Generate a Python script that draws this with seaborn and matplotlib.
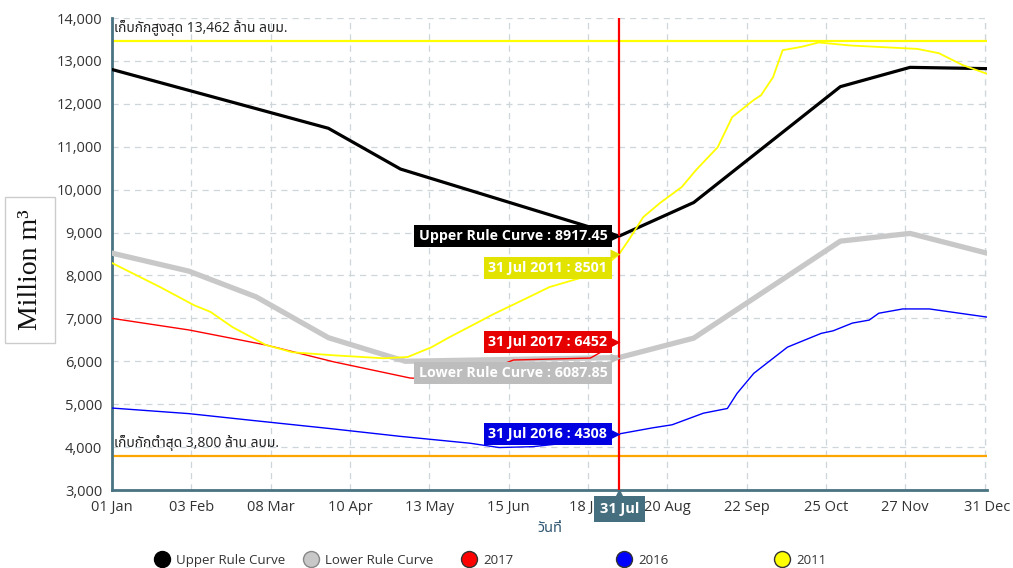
import matplotlib
matplotlib.use("Agg")
import matplotlib.pyplot as plt
from matplotlib.lines import Line2D
from matplotlib.ticker import FuncFormatter
import seaborn as sns

# day of year (0 = 01 Jan) and storage in million m3
upper_days = [0, 90, 120, 211, 242, 303, 332, 364]
upper_vals = [12800, 11430, 10480, 8917.45, 9700, 12400, 12850, 12820]

lower_days = [0, 32, 60, 90, 122, 211, 242, 303, 332, 364]
lower_vals = [8520, 8100, 7500, 6550, 6000, 6087.85, 6540, 8800, 8980, 8520]

y2017_days = [0, 32, 64, 92, 124, 145, 167, 199, 211]
y2017_vals = [7000, 6730, 6380, 5990, 5610, 5550, 6030, 6075, 6452]

y2016_days = [0, 32, 57, 91, 120, 149, 161, 175, 190, 203, 211, 225, 233, 246,
              256, 260, 267, 281, 295, 300, 308, 315, 319, 329, 340, 364]
y2016_vals = [4910, 4780, 4630, 4430, 4250, 4090, 3990, 4010, 4100, 4220, 4308,
              4450, 4520, 4790, 4900, 5250, 5720, 6330, 6650, 6710, 6890, 6960,
              7120, 7220, 7220, 7030]

y2011_days = [0, 20, 34, 41, 50, 64, 75, 92, 113, 123, 133, 140, 154, 158, 171,
              182, 196, 208, 211, 215, 221, 228, 237, 243, 252, 258, 267, 270,
              275, 279, 287, 294, 307, 335, 344, 354, 364]
y2011_vals = [8290, 7730, 7310, 7150, 6800, 6380, 6210, 6140, 6070, 6100, 6330,
              6550, 6960, 7080, 7430, 7730, 7960, 8360, 8501, 8830, 9360, 9690,
              10060, 10460, 10990, 11690, 12090, 12200, 12620, 13250, 13330,
              13430, 13360, 13280, 13180, 12900, 12700]

max_storage = 13462
min_storage = 3800
today = 211  # 31 Jul

tick_days = [0, 33, 66, 99, 132, 165, 198, 231, 264, 297, 330, 363, 364]
tick_labels = ["01 Jan", "03 Feb", "08 Mar", "10 Apr", "13 May", "15 Jun",
               "18 Jul", "20 Aug", "22 Sep", "25 Oct", "27 Nov", "", "31 Dec"]

series_names = ["Upper Rule Curve", "Lower Rule Curve", "2017", "2016", "2011"]
series_colors = ["#000000", "#c8c8c8", "#ff0000", "#0000ff", "#ffff00"]

# tooltip labels at 31 Jul
tip_texts = ["Upper Rule Curve : 8917.45", "31 Jul 2011 : 8501", "31 Jul 2017 : 6452",
             "Lower Rule Curve : 6087.85", "31 Jul 2016 : 4308"]
tip_values = [8917.45, 8501, 6452, 6087.85, 4308]
tip_colors = ["#000000", "#e3e300", "#e60000", "#bdbdbd", "#0000e0"]


def main():
    sns.set_style("white")
    plt.rcParams["font.family"] = ["Open Sans", "Noto Sans Thai", "DejaVu Sans"]
    teal = "#4a7382"

    fig = plt.figure(figsize=(10.13, 5.68), dpi=100)
    ax = fig.add_axes([0.1106, 0.1373, 0.8637, 0.831])

    ax.axhline(max_storage, color="#ffff00", lw=1.6, zorder=2)
    ax.axhline(min_storage, color="#ffa500", lw=1.6, zorder=2)

    sns.lineplot(x=lower_days, y=lower_vals, ax=ax, color="#c8c8c8", lw=3.8, zorder=3)
    sns.lineplot(x=upper_days, y=upper_vals, ax=ax, color="#000000", lw=2.3, zorder=4)
    sns.lineplot(x=y2016_days, y=y2016_vals, ax=ax, color="#0000ff", lw=1.0, zorder=5)
    sns.lineplot(x=y2017_days, y=y2017_vals, ax=ax, color="#ff0000", lw=1.0, zorder=5)
    sns.lineplot(x=y2011_days, y=y2011_vals, ax=ax, color="#ffff00", lw=1.3, zorder=6)

    ax.axvline(today, color="#ff0000", lw=1.6, zorder=7)

    ax.set_xlim(0, 364)
    ax.set_ylim(3000, 14000)
    ax.set_xticks(tick_days)
    ax.set_xticklabels(tick_labels)
    ax.set_yticks(range(3000, 14001, 1000))
    ax.yaxis.set_major_formatter(FuncFormatter(lambda v, p: f"{int(v):,}"))
    ax.tick_params(axis="both", colors=teal, length=5, width=2, labelsize=10.5,
                   labelcolor="#333333", pad=2)
    ax.grid(True, color="#cfd6da", ls=(0, (5, 4)), lw=0.9)
    for side in ["top", "right"]:
        ax.spines[side].set_visible(False)
    for side in ["left", "bottom"]:
        ax.spines[side].set_color(teal)
        ax.spines[side].set_linewidth(2)

    thai = ["Open Sans", "Noto Sans Thai", "DejaVu Sans"]
    ax.text(1, max_storage + 110, "เก็บกักสูงสุด 13,462 ล้าน ลบม.", fontsize=10,
            family=thai, color="#222222", va="bottom", ha="left")
    ax.text(1, min_storage + 110, "เก็บกักต่ำสุด 3,800 ล้าน ลบม.", fontsize=10,
            family=thai, color="#222222", va="bottom", ha="left")

    ax.set_xlabel("วันที่", fontsize=10.5, fontweight="bold", color="#2f5570",
                  family=["Noto Sans Thai", "DejaVu Sans"])
    ax.xaxis.set_label_coords(0.5, -0.066)
    ax.set_ylabel("Million m³", fontsize=20, family="Liberation Serif", color="#111111",
                  bbox=dict(boxstyle="square,pad=0.45", fc="white", ec="#cccccc"))
    ax.yaxis.set_label_coords(-0.079, 0.466)

    # tooltip boxes
    shifts = [0, -10, 0, -11, 0]
    for txt, val, col, dy in zip(tip_texts, tip_values, tip_colors, shifts):
        ax.annotate(txt, xy=(today, val), xytext=(-8.6, dy), textcoords="offset points",
                    ha="right", va="center", fontsize=10.3, fontweight="bold",
                    color="white", zorder=9,
                    bbox=dict(boxstyle="square,pad=0.3", fc=col, ec="none"))
        ax.plot(today - 1.6, val, marker=">", ms=7, color=col, mec="none", zorder=9)

    xt = ax.get_xaxis_transform()
    ax.text(today, -0.04, "31 Jul", transform=xt, ha="center", va="center",
            fontsize=10.5, fontweight="bold", color="white", clip_on=False, zorder=10,
            bbox=dict(boxstyle="square,pad=0.4", fc="#456f7e", ec="none"))
    ax.plot([today], [-0.008], marker="^", ms=6, color="#456f7e", transform=xt,
            clip_on=False, zorder=10)

    # legend items spaced like the original
    legend_x = [163, 312, 470, 625, 783]
    edge_cols = ["#000000", "#888888", "#333333", "#333333", "#333333"]
    for name, col, ec, px in zip(series_names, series_colors, edge_cols, legend_x):
        h = Line2D([], [], ls="none", marker="o", ms=11.5, mfc=col, mec=ec, mew=1)
        fig.legend(handles=[h], labels=[name], loc="center left",
                   bbox_to_anchor=((px - 8) / 1013, 0.014), frameon=False,
                   fontsize=9.5, labelcolor="#333333", borderpad=0, borderaxespad=0,
                   handlelength=1, handletextpad=0.6)

    fig.savefig("out.png", dpi=100)
    plt.close(fig)


if __name__ == "__main__":
    main()
